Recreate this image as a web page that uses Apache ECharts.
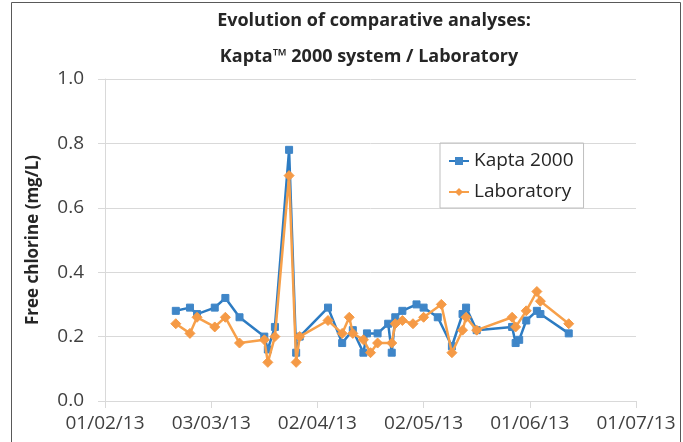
<!DOCTYPE html>
<html>
<head>
<meta charset="utf-8">
<title>Evolution of comparative analyses</title>
<script src="https://cdn.jsdelivr.net/npm/echarts@6/dist/echarts.min.js"></script>
<style>
    html, body { margin: 0; padding: 0; background: #fff; }
    #main { width: 683px; height: 442px; }
</style>
</head>
<body>
<div id="main"></div>
<script>
// 数据: 日期 + 游离氯 (mg/L)
var kaptaDates = ["2013-02-21", "2013-02-25", "2013-02-27", "2013-03-04", "2013-03-07", "2013-03-11",
    "2013-03-18", "2013-03-19", "2013-03-21", "2013-03-25", "2013-03-27", "2013-03-28",
    "2013-04-05", "2013-04-09", "2013-04-12", "2013-04-15", "2013-04-16", "2013-04-19",
    "2013-04-22", "2013-04-23", "2013-04-24", "2013-04-26", "2013-04-30", "2013-05-02",
    "2013-05-06", "2013-05-10", "2013-05-13", "2013-05-14", "2013-05-17", "2013-05-27",
    "2013-05-28", "2013-05-29", "2013-05-31", "2013-06-03", "2013-06-04", "2013-06-12"];
var kaptaValues = [0.28, 0.29, 0.27, 0.29, 0.32, 0.26,
    0.20, 0.16, 0.23, 0.78, 0.15, 0.20,
    0.29, 0.18, 0.22, 0.15, 0.21, 0.21,
    0.24, 0.15, 0.26, 0.28, 0.30, 0.29,
    0.26, 0.17, 0.27, 0.29, 0.22, 0.23,
    0.18, 0.19, 0.25, 0.28, 0.27, 0.21];

var labDates = ["2013-02-21", "2013-02-25", "2013-02-27", "2013-03-04", "2013-03-07", "2013-03-11",
    "2013-03-18", "2013-03-19", "2013-03-21", "2013-03-25", "2013-03-27", "2013-03-28",
    "2013-04-05", "2013-04-09", "2013-04-11", "2013-04-12", "2013-04-15", "2013-04-17",
    "2013-04-19", "2013-04-23", "2013-04-24", "2013-04-26", "2013-04-29", "2013-05-02",
    "2013-05-07", "2013-05-10", "2013-05-13", "2013-05-14", "2013-05-17", "2013-05-27",
    "2013-05-28", "2013-05-31", "2013-06-03", "2013-06-04", "2013-06-12"];
var labValues = [0.24, 0.21, 0.26, 0.23, 0.26, 0.18,
    0.19, 0.12, 0.20, 0.70, 0.12, 0.20,
    0.25, 0.21, 0.26, 0.21, 0.19, 0.15,
    0.18, 0.18, 0.24, 0.25, 0.24, 0.26,
    0.30, 0.15, 0.22, 0.26, 0.22, 0.26,
    0.23, 0.28, 0.34, 0.31, 0.24];

var seriesNames = ["Kapta 2000", "Laboratory"];
var titleLines = ["Evolution of comparative analyses:", "Kapta\u2122 2000 system / Laboratory"];
var yTitle = "Free chlorine (mg/L)";

// x 轴: 从 01/02/13 起的天数, 每 30 天一个刻度
var startDate = "2013-02-01";
var xMin = 0, xMax = 150, xStep = 30;
var yMin = 0, yMax = 1, yStep = 0.2;

var DAY = 86400000;
var base = Date.parse(startDate);

function dayOf(s) {
    return Math.round((Date.parse(s) - base) / DAY);
}
function pad(n) {
    return (n < 10 ? "0" : "") + n;
}
function dateLabel(v) {
    var d = new Date(base + v * DAY);
    return pad(d.getUTCDate()) + "/" + pad(d.getUTCMonth() + 1) + "/" + String(d.getUTCFullYear()).slice(2);
}
function pairs(dates, values) {
    return dates.map(function (d, i) { return [dayOf(d), values[i]]; });
}

var font = "'Open Sans', 'Noto Sans', sans-serif";

var myChart = echarts.init(document.getElementById("main"));

var option = {
    animation: false,
    textStyle: { fontFamily: font },
    title: [{
        text: titleLines[0],
        left: 374, top: 12, textAlign: "center", padding: 0,
        textStyle: { fontFamily: font, fontSize: 18, fontWeight: "bold", color: "#262626" }
    }, {
        text: titleLines[1],
        left: 369, top: 48, textAlign: "center", padding: 0,
        textStyle: { fontFamily: font, fontSize: 18, fontWeight: "bold", color: "#262626" }
    }],
    legend: {
        data: seriesNames,
        orient: "vertical",
        left: 440, top: 143,
        padding: [6, 10, 4, 8],
        itemGap: 7,
        itemWidth: 20,
        itemHeight: 10,
        borderColor: "#bfbfbf",
        borderWidth: 1,
        borderRadius: 0,
        textStyle: { fontFamily: font, fontSize: 19, color: "#262626", lineHeight: 24 }
    },
    grid: { left: 105, right: 47, top: 79, bottom: 41, containLabel: false },
    xAxis: {
        type: "value",
        min: xMin, max: xMax, interval: xStep,
        axisLine: { show: true, lineStyle: { color: "#d9d9d9", width: 1 } },
        axisTick: { show: true, length: 7, lineStyle: { color: "#d9d9d9" } },
        splitLine: { show: false },
        axisLabel: {
            fontFamily: font, fontSize: 19, color: "#404040", margin: 13,
            formatter: dateLabel
        }
    },
    yAxis: {
        type: "value",
        min: yMin, max: yMax, interval: yStep,
        name: yTitle,
        nameLocation: "middle",
        nameGap: 63,
        nameTextStyle: { fontFamily: font, fontSize: 17, fontWeight: "bold", color: "#262626" },
        axisLine: { show: true, lineStyle: { color: "#d9d9d9", width: 1 } },
        axisTick: { show: true, length: 7, lineStyle: { color: "#d9d9d9" } },
        splitLine: { show: true, lineStyle: { color: "#d9d9d9", width: 1 } },
        axisLabel: {
            fontFamily: font, fontSize: 19, color: "#404040", margin: 21,
            formatter: function (v) { return v.toFixed(1); }
        }
    },
    graphic: [{
        type: "rect",
        shape: { x: 11.5, y: 2.5, width: 669, height: 460 },
        style: { fill: "none", stroke: "#595959", lineWidth: 1 },
        silent: true
    }],
    series: [{
        name: seriesNames[0],
        type: "line",
        data: pairs(kaptaDates, kaptaValues),
        symbol: "rect",
        symbolSize: 7,
        lineStyle: { color: "#2c7bc2", width: 2.5 },
        itemStyle: { color: "#3f86c8", borderColor: "#3f86c8" },
        z: 2
    }, {
        name: seriesNames[1],
        type: "line",
        data: pairs(labDates, labValues),
        symbol: "diamond",
        symbolSize: 10,
        lineStyle: { color: "#f7a04a", width: 2.5 },
        itemStyle: { color: "#f59a46", borderColor: "#f59a46" },
        z: 3
    }]
};

myChart.setOption(option);
</script>
</body>
</html>
